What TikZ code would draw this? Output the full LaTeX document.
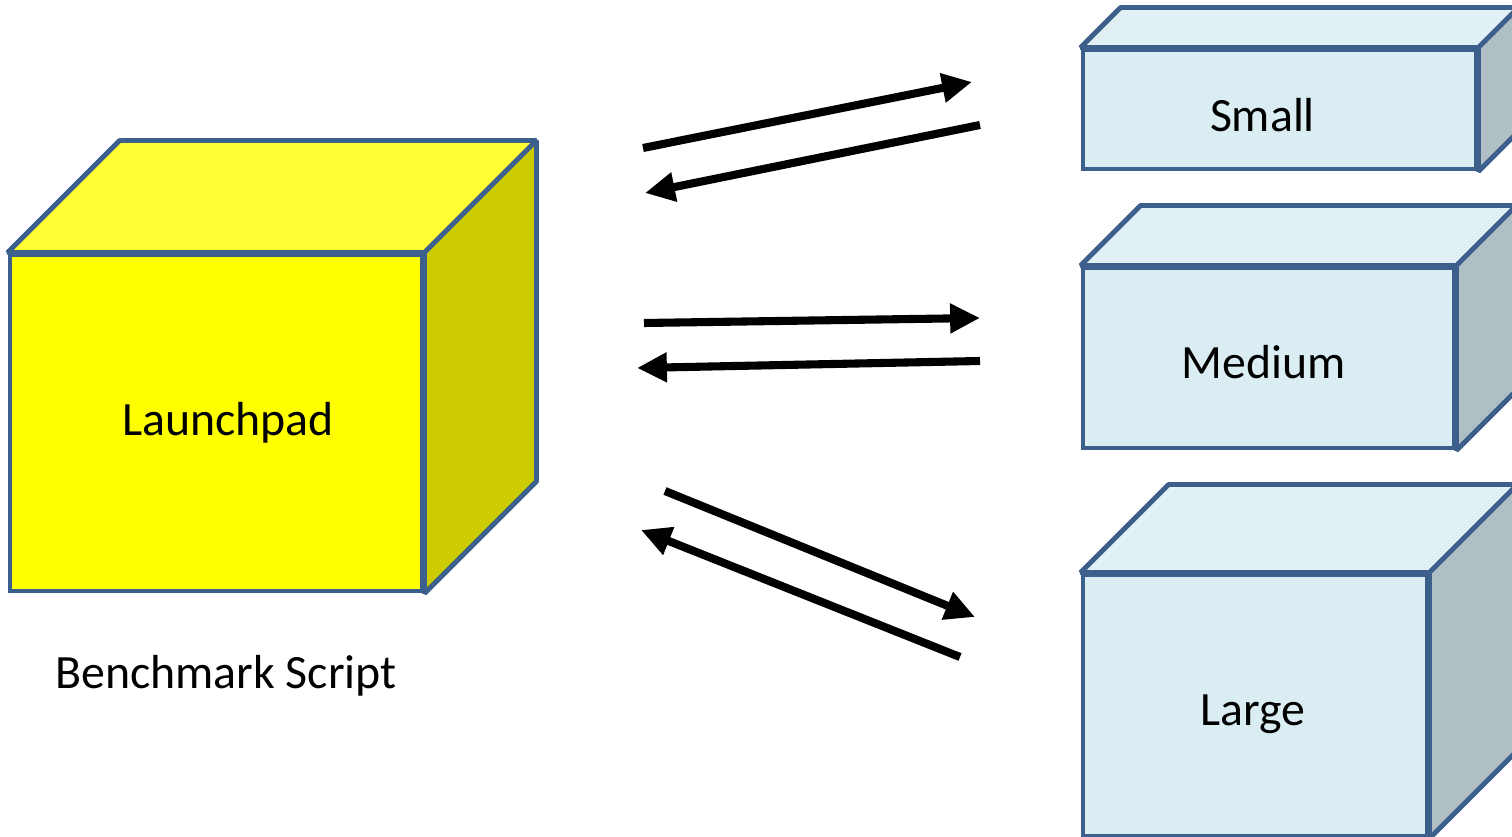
\documentclass[tikz,border=0pt]{standalone}
\usepackage{fontspec}
\setmainfont{Carlito}
\usepackage{tikz}
\usetikzlibrary{arrows.meta,positioning,calc}
\definecolor{edge}{HTML}{3C5F8C}
\definecolor{ylfront}{HTML}{FFFF00}
\definecolor{yltop}{HTML}{FFFF33}
\definecolor{ylside}{HTML}{CCCC00}
\definecolor{blfront}{HTML}{DAEDF3}
\definecolor{bltop}{HTML}{E1F0F5}
\definecolor{blside}{HTML}{B0BFC4}
\tikzstyle{front} = [rectangle, draw=edge, line width=1.4pt, label distance=0pt, font=\fontsize{13.6}{16}\selectfont]
\tikzstyle{face} = [draw=edge, line width=1.4pt, line join=bevel]
\tikzstyle{caption} = [font=\fontsize{13.6}{16}\selectfont]
\tikzstyle{arrow} = [line width=2.3pt, -{Triangle[length=8.5pt,width=8pt]}]

\begin{document}
\begin{tikzpicture}[node distance=2cm]
\useasboundingbox (0,0) rectangle (15.12,8.37);
\clip (0,0) rectangle (15.12,8.37);
% front faces
\node (lp) [front, fill=ylfront, minimum width=4.12cm, minimum height=3.36cm,
  label={[font=\fontsize{13.6}{16}\selectfont, xshift=0.12cm]center:Launchpad}] at (2.16,4.14) {};
\node (sm) [front, fill=blfront, minimum width=3.93cm, minimum height=1.19cm,
  label={[font=\fontsize{13.6}{16}\selectfont, xshift=-0.17cm, yshift=-0.06cm]center:Small}] at (12.795,7.275) {};
\node (md) [front, fill=blfront, minimum width=3.71cm, minimum height=1.80cm,
  label={[font=\fontsize{13.6}{16}\selectfont, xshift=-0.045cm, yshift=-0.04cm]center:Medium}] at (12.685,4.79) {};
\node (lg) [front, fill=blfront, minimum width=3.44cm, minimum height=2.61cm,
  label={[font=\fontsize{13.6}{16}\selectfont, xshift=-0.02cm, yshift=-0.09cm]center:Large}] at (12.55,1.315) {};
\node (bs) [caption, below of=lp, xshift=0.1cm, yshift=-0.53cm] {Benchmark Script};
% top and side faces
\filldraw [face, fill=yltop] (lp.north west) -- ++(1.12,1.12) -- ($(lp.north east)+(1.12,1.12)$) -- (lp.north east) -- cycle;
\filldraw [face, fill=ylside] (lp.north east) -- ++(1.12,1.12) -- ($(lp.south east)+(1.12,1.12)$) -- (lp.south east) -- cycle;
\filldraw [face, fill=bltop] (sm.north west) -- ++(0.40,0.40) -- ($(sm.north east)+(0.40,0.40)$) -- (sm.north east) -- cycle;
\filldraw [face, fill=blside] (sm.north east) -- ++(0.40,0.40) -- ($(sm.south east)+(0.40,0.40)$) -- (sm.south east) -- cycle;
\filldraw [face, fill=bltop] (md.north west) -- ++(0.60,0.60) -- ($(md.north east)+(0.60,0.60)$) -- (md.north east) -- cycle;
\filldraw [face, fill=blside] (md.north east) -- ++(0.60,0.60) -- ($(md.south east)+(0.60,0.60)$) -- (md.south east) -- cycle;
\filldraw [face, fill=bltop] (lg.north west) -- ++(0.88,0.88) -- ($(lg.north east)+(0.88,0.88)$) -- (lg.north east) -- cycle;
\filldraw [face, fill=blside] (lg.north east) -- ++(0.88,0.88) -- ($(lg.south east)+(0.88,0.88)$) -- (lg.south east) -- cycle;
% arrow ends
\coordinate (s1) at (6.43,6.89);
\coordinate (e1) at (9.72,7.55);
\coordinate (s2) at (9.80,7.12);
\coordinate (e2) at (6.45,6.44);
\coordinate (s3) at (6.44,5.14);
\coordinate (e3) at (9.80,5.19);
\coordinate (s4) at (9.80,4.76);
\coordinate (e4) at (6.37,4.69);
\coordinate (s5) at (6.65,3.46);
\coordinate (e5) at (9.75,2.20);
\coordinate (s6) at (9.60,1.80);
\coordinate (e6) at (6.41,3.07);
\draw [arrow] (s1) -- (e1);
\draw [arrow] (s2) -- (e2);
\draw [arrow] (s3) -- (e3);
\draw [arrow] (s4) -- (e4);
\draw [arrow] (s5) -- (e5);
\draw [arrow] (s6) -- (e6);
\end{tikzpicture}
\end{document}
